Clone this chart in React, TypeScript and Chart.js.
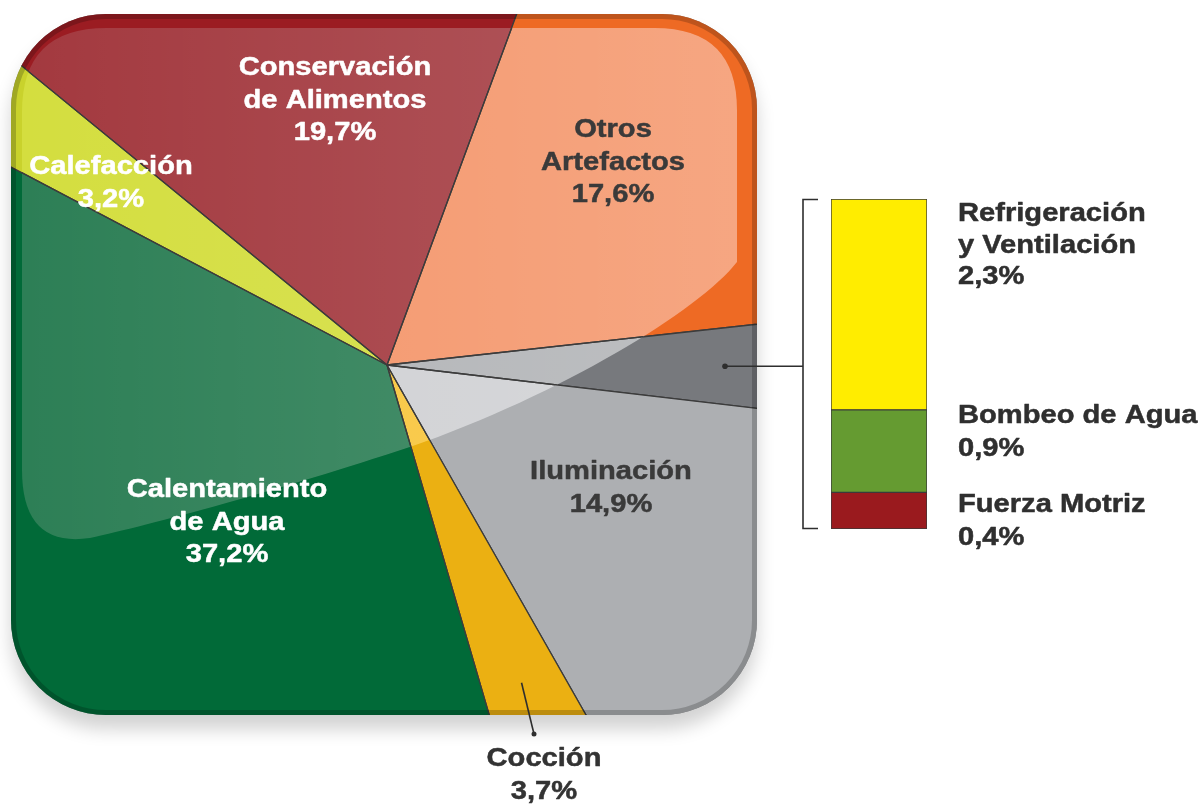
import React, { useEffect, useRef } from 'react';
import { Chart, registerables } from 'chart.js';

Chart.register(...registerables);

// ---------- data ----------
const SLICE_NAMES = [
  'Conservación de Alimentos',
  'Otros Artefactos',
  'Otros usos',
  'Iluminación',
  'Cocción',
  'Calentamiento de Agua',
  'Calefacción',
];
const SLICE_VALUES = [19.7, 17.6, 3.6, 14.9, 3.7, 37.2, 3.2];
const SLICE_LABEL_LINES = [
  ['Conservación', 'de Alimentos'],
  ['Otros', 'Artefactos'],
  [],
  ['Iluminación'],
  ['Cocción'],
  ['Calentamiento', 'de Agua'],
  ['Calefacción'],
];

const BREAKDOWN_NAMES = ['Fuerza Motriz', 'Bombeo de Agua', 'Refrigeración y Ventilación'];
const BREAKDOWN_VALUES = [0.4, 0.9, 2.3];
const BREAKDOWN_LABEL_LINES = [['Fuerza Motriz'], ['Bombeo de Agua'], ['Refrigeración', 'y Ventilación']];

// ---------- styles / layout ----------
const BASE_COLORS = ['#9b1c22', '#ee6a24', '#77797d', '#adafb2', '#ebb012', '#016a38', '#c9d22c'];
const GLOSS_COLORS = ['#a3393f', '#f49468', '#b0b2b5', '#cfd0d3', '#f8c53a', '#2d7f56', '#d4de3f'];
const LABEL_COLORS = ['#ffffff', '#3a3a3a', '', '#3a3a3a', '#333333', '#ffffff', '#ffffff'];
const LABEL_POS: (number[] | null)[] = [[335, 68], [613, 130], null, [611, 472], [544, 759], [227, 490], [111, 167]];
const BREAKDOWN_COLORS = ['#9a1a1e', '#659b31', '#ffed00'];
const BREAKDOWN_LABEL_POS = [[958, 505], [958, 416], [958, 214]];
const BOX = { x: 11, y: 14, w: 746, h: 701, r: 95 };
const LINE_H = 32.5;
const FONT = 'bold 26px "Liberation Sans", Arial, Helvetica, sans-serif';
const TEXT_SX = 1.12;

const fmt = (v: number) => v.toFixed(1).replace('.', ',') + '%';

function roundRect(ctx: CanvasRenderingContext2D, x: number, y: number, w: number, h: number, r: number) {
  ctx.beginPath();
  ctx.moveTo(x + r, y);
  ctx.arcTo(x + w, y, x + w, y + h, r);
  ctx.arcTo(x + w, y + h, x, y + h, r);
  ctx.arcTo(x, y + h, x, y, r);
  ctx.arcTo(x, y, x + w, y, r);
  ctx.closePath();
}

function glossPath(ctx: CanvasRenderingContext2D) {
  ctx.beginPath();
  ctx.moveTo(22, 112);
  ctx.quadraticCurveTo(22, 28, 106, 28);
  ctx.lineTo(655, 28);
  ctx.quadraticCurveTo(737, 28, 737, 110);
  ctx.lineTo(737, 262);
  ctx.bezierCurveTo(700, 310, 560, 395, 410, 447);
  ctx.bezierCurveTo(280, 490, 150, 525, 90, 538);
  ctx.quadraticCurveTo(22, 548, 22, 470);
  ctx.closePath();
}

function arcPath(ctx: CanvasRenderingContext2D, p: any) {
  ctx.beginPath();
  ctx.moveTo(p.x, p.y);
  ctx.arc(p.x, p.y, p.outerRadius, p.startAngle, p.endAngle);
  ctx.closePath();
}

function drawText(ctx: CanvasRenderingContext2D, t: string, x: number, y: number, color: string) {
  ctx.save();
  ctx.translate(x, y);
  ctx.scale(TEXT_SX, 1);
  ctx.fillStyle = color;
  ctx.strokeStyle = color;
  ctx.lineWidth = 0.5;
  ctx.lineJoin = 'round';
  ctx.fillText(t, 0, 0);
  ctx.strokeText(t, 0, 0);
  ctx.restore();
}

const boxPlugin = {
  id: 'roundedBox',
  beforeDatasetsDraw(chart: any) {
    const ctx: CanvasRenderingContext2D = chart.ctx;
    ctx.save();
    ctx.shadowColor = 'rgba(0,0,0,0.18)';
    ctx.shadowBlur = 18;
    ctx.shadowOffsetY = 14;
    roundRect(ctx, BOX.x, BOX.y, BOX.w, BOX.h, BOX.r);
    ctx.fillStyle = '#7a7a7a';
    ctx.fill();
    ctx.restore();
    ctx.save();
    roundRect(ctx, BOX.x, BOX.y, BOX.w, BOX.h, BOX.r);
    ctx.clip();
  },
  afterDatasetsDraw(chart: any) {
    const ctx: CanvasRenderingContext2D = chart.ctx;
    const arcs = chart.getDatasetMeta(0).data;
    const props = arcs.map((a: any) => a.getProps(['x', 'y', 'startAngle', 'endAngle', 'outerRadius'], true));
    ctx.save();
    glossPath(ctx);
    ctx.clip();
    props.forEach((p: any, i: number) => {
      arcPath(ctx, p);
      ctx.fillStyle = GLOSS_COLORS[i];
      ctx.fill();
    });
    const g = ctx.createLinearGradient(22, 0, 737, 0);
    g.addColorStop(0, 'rgba(255,255,255,0)');
    g.addColorStop(1, 'rgba(255,255,255,0.17)');
    glossPath(ctx);
    ctx.fillStyle = g;
    ctx.fill();
    props.forEach((p: any) => {
      arcPath(ctx, p);
      ctx.lineWidth = 1.3;
      ctx.lineJoin = 'round';
      ctx.strokeStyle = '#3c3c3c';
      ctx.stroke();
    });
    ctx.restore();
    // darker rim
    roundRect(ctx, BOX.x, BOX.y, BOX.w, BOX.h, BOX.r);
    ctx.lineWidth = 10;
    ctx.strokeStyle = 'rgba(0,0,0,0.2)';
    ctx.stroke();
    ctx.restore();
  },
  afterDraw(chart: any) {
    const ctx: CanvasRenderingContext2D = chart.ctx;
    const arcs = chart.getDatasetMeta(0).data;
    const props = arcs.map((a: any) => a.getProps(['x', 'y', 'startAngle', 'endAngle', 'outerRadius'], true));
    const mid = (p: any, d: number) => {
      const a = (p.startAngle + p.endAngle) / 2;
      return [p.x + Math.cos(a) * d, p.y + Math.sin(a) * d];
    };
    ctx.save();
    ctx.strokeStyle = '#2e2e2e';
    ctx.fillStyle = '#2e2e2e';
    ctx.lineWidth = 1.6;
    // leader for grouped slice
    const [gx, gy] = mid(props[2], 338);
    ctx.beginPath();
    ctx.moveTo(gx, gy);
    ctx.lineTo(803, gy);
    ctx.stroke();
    ctx.beginPath();
    ctx.arc(gx, gy, 2.8, 0, Math.PI * 2);
    ctx.fill();
    // bracket
    ctx.beginPath();
    ctx.moveTo(818, 199.5);
    ctx.lineTo(803, 199.5);
    ctx.lineTo(803, 528.5);
    ctx.lineTo(818, 528.5);
    ctx.stroke();
    // leader for Cocción
    const [cx, cy] = mid(props[4], 345);
    ctx.beginPath();
    ctx.moveTo(cx, cy);
    ctx.lineTo(534, 734);
    ctx.stroke();
    ctx.beginPath();
    ctx.arc(534, 734, 2.5, 0, Math.PI * 2);
    ctx.fill();

    ctx.font = FONT;
    ctx.textBaseline = 'middle';
    ctx.textAlign = 'center';
    SLICE_VALUES.forEach((v, i) => {
      const pos = LABEL_POS[i];
      if (!pos) return;
      const lines = [...SLICE_LABEL_LINES[i], fmt(v)];
      lines.forEach((t, k) => drawText(ctx, t, pos[0], pos[1] + k * LINE_H, LABEL_COLORS[i]));
    });
    ctx.textAlign = 'left';
    BREAKDOWN_VALUES.forEach((v, i) => {
      const pos = BREAKDOWN_LABEL_POS[i];
      const lines = [...BREAKDOWN_LABEL_LINES[i], fmt(v)];
      lines.forEach((t, k) => drawText(ctx, t, pos[0], pos[1] + k * (i === 2 ? 31.5 : 32.5), '#2f2f2f'));
    });
    ctx.restore();
  },
};

export default function App() {
  const pieRef = useRef<HTMLCanvasElement>(null);
  const barRef = useRef<HTMLCanvasElement>(null);

  useEffect(() => {
    const pie = new Chart(pieRef.current as HTMLCanvasElement, {
      type: 'pie',
      data: {
        labels: SLICE_NAMES,
        datasets: [
          {
            data: SLICE_VALUES,
            backgroundColor: BASE_COLORS,
            borderColor: '#3c3c3c',
            borderWidth: 1.3,
            clip: false as any,
          },
        ],
      },
      options: {
        responsive: false,
        animation: false,
        radius: 700,
        rotation: -50.7,
        events: [],
        layout: { padding: { left: 0, top: 0, right: 430, bottom: 75 } },
        plugins: { legend: { display: false }, tooltip: { enabled: false } },
      } as any,
      plugins: [boxPlugin],
    });

    const bar = new Chart(barRef.current as HTMLCanvasElement, {
      type: 'bar',
      data: {
        labels: ['Otros usos'],
        datasets: BREAKDOWN_VALUES.map((v, i) => ({
          label: BREAKDOWN_NAMES[i],
          data: [v],
          backgroundColor: BREAKDOWN_COLORS[i],
          borderColor: '#3a3a3a',
          borderWidth: 1,
          borderSkipped: false,
          barPercentage: 1,
          categoryPercentage: 1,
        })),
      },
      options: {
        responsive: false,
        animation: false,
        events: [],
        layout: { padding: 0 },
        scales: {
          x: { display: false, stacked: true },
          y: { display: false, stacked: true, min: 0, max: 3.6 },
        },
        plugins: { legend: { display: false }, tooltip: { enabled: false } },
      } as any,
    });

    return () => {
      pie.destroy();
      bar.destroy();
    };
  }, []);

  return (
    <div style={{ position: 'absolute', left: 0, top: 0, width: 1204, height: 805, background: '#ffffff', overflow: 'hidden' }}>
      <canvas ref={pieRef} width={1204} height={805} style={{ position: 'absolute', left: 0, top: 0 }} />
      <canvas ref={barRef} width={96} height={330} style={{ position: 'absolute', left: 831, top: 199 }} />
    </div>
  );
}
